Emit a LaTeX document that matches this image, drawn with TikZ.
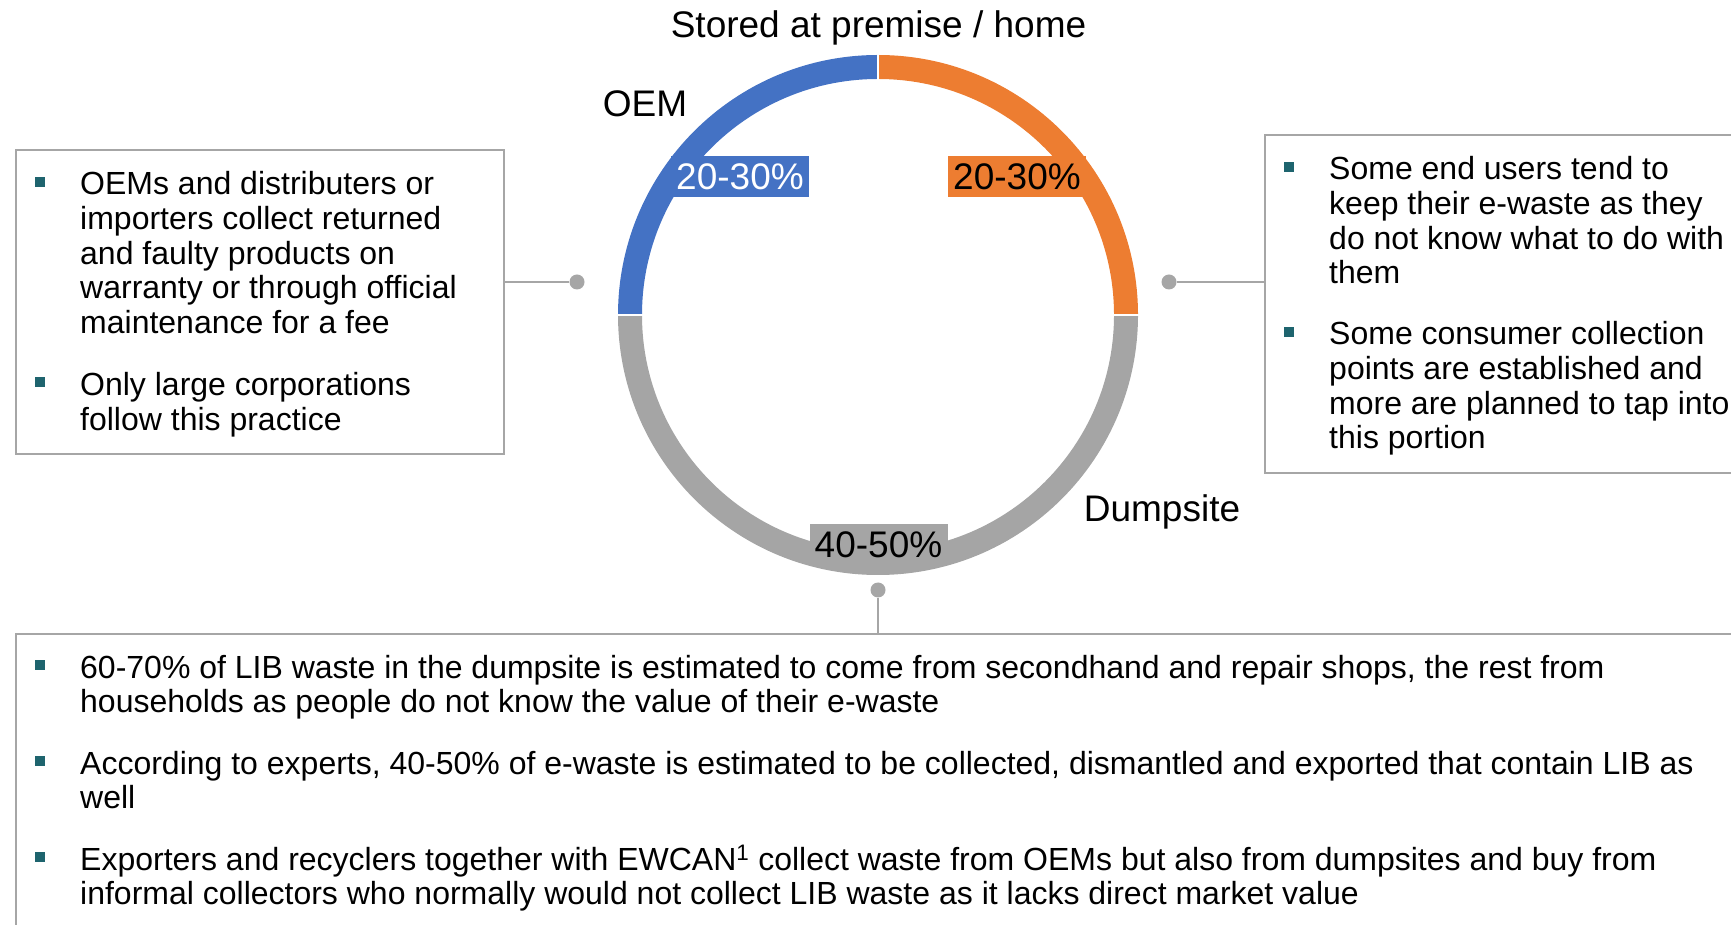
\documentclass[tikz,border=0pt]{standalone}
\usepackage{fontspec}
\setmainfont{Liberation Sans}
\definecolor{oem}{RGB}{68,114,196}
\definecolor{store}{RGB}{237,125,49}
\definecolor{dump}{RGB}{165,165,165}
\definecolor{frame}{RGB}{166,166,166}
\definecolor{bullet}{RGB}{30,100,110}
\usetikzlibrary{
	positioning,
	calc
}
\tikzset{
  % ring
	cstring/.style    ={line width=24pt},             % ring segment
	cstsep/.style     ={draw=white, line width=2pt},  % gap between segments
  % node
	cstpct/.style     ={inner sep=0pt, minimum width=138pt, minimum height=41pt, font=\fontsize{37}{40}\selectfont},
	cstname/.style    ={anchor=base, inner sep=0pt, font=\fontsize{37}{40}\selectfont},
	cstbox/.style     ={draw=frame, line width=2pt, anchor=north west, inner sep=0pt},
	cstitem/.style    ={anchor=base west, inner sep=0pt, align=left, font=\fontsize{32}{34.6}\selectfont}, % base = last line
	cstbullet/.style  ={fill=bullet, minimum size=10pt, inner sep=0pt},
  % connector
	cstline/.style    ={draw=frame, line width=2.5pt},
	cstdot/.style     ={circle, fill=frame, minimum size=15pt, inner sep=0pt}
}
\begin{document}
\begin{tikzpicture}[x=1pt,y=1pt]
			\useasboundingbox (0,0) rectangle (1731,924);
			% ring
			\coordinate (C) at (878,609);
			\draw[cstring,oem] ([shift={(180:248)}]C) arc[start angle=180, end angle=90, radius=248];
			\draw[cstring,store] ([shift={(90:248)}]C) arc[start angle=90, end angle=0, radius=248];
			\draw[cstring,dump] ([shift={(0:248)}]C) arc[start angle=0, end angle=-180, radius=248];
			\draw[cstsep] ([shift={(90:235)}]C) -- ([shift={(90:261)}]C);
			\draw[cstsep] ([shift={(0:235)}]C) -- ([shift={(0:261)}]C);
			\draw[cstsep] ([shift={(180:235)}]C) -- ([shift={(180:261)}]C);
			\node[cstpct,fill=oem,text=white] (oempct) at (740,747.5) {20-30\%};
			\node[cstpct,fill=store] (storepct) at (1017,747.5) {20-30\%};
			\node[cstpct,fill=dump] (dumppct) at (878.5,379) {40-50\%};
			\node[cstname] (storename) at (878.5,886) {Stored at premise / home};
			\node[cstname] (oemname) at (645,807) {OEM};
			\node[cstname] (dumpname) at (1162,402) {Dumpsite};
			% boxes
			\node[cstbox,minimum width=488pt,minimum height=304pt] (oembox) at (15,775) {};
			\node[cstbox,minimum width=481pt,minimum height=338pt] (storebox) at (1264,790) {};
			\node[cstbox,minimum width=1740pt,minimum height=310pt] (dumpbox) at (15,291) {};
			% connectors
			\node[cstdot] (oemdot) at (577,642) {};
			\node[cstdot] (storedot) at (1169,642) {};
			\node[cstdot] (dumpdot) at (878,334) {};
			\draw[cstline] (oemdot) -- (oembox.east |- oemdot);
			\draw[cstline] (storedot) -- (storebox.west |- storedot);
			\draw[cstline] (dumpdot) -- (dumpbox.north -| dumpdot);
			% left text
			\node[cstbullet] (oemb1) at (40,742) {};
			\node[cstitem] (oemt1) at (80,590.6) {OEMs and distributers or\\importers collect returned\\and faulty products on\\warranty or through official\\maintenance for a fee};
			\node[cstbullet] (oemb2) at (40,541.5) {};
			\node[cstitem] (oemt2) at (80,493.9) {Only large corporations\\follow this practice};
			% right text
			\node[cstbullet] (storeb1) at (1289,757) {};
			\node[cstitem] (storet1) at (1329,640.2) {Some end users tend to\\keep their e-waste as they\\do not know what to do with\\them};
			\node[cstbullet] (storeb2) at (1289,592) {};
			\node[cstitem] (storet2) at (1329,475.2) {Some consumer collection\\points are established and\\more are planned to tap into\\this portion};
			% bottom text
			\node[cstbullet] (dumpb1) at (40,259) {};
			\node[cstitem] (dumpt1) at (80,211.4) {60-70\% of LIB waste in the dumpsite is estimated to come from secondhand and repair shops, the rest from\\households as people do not know the value of their e-waste};
			\node[cstbullet] (dumpb2) at (40,163) {};
			\node[cstitem] (dumpt2) at (80,115.4) {According to experts, 40-50\% of e-waste is estimated to be collected, dismantled and exported that contain LIB as\\well};
			\node[cstbullet] (dumpb3) at (40,67) {};
			\node[cstitem] (dumpt3) at (80,19.4) {Exporters and recyclers together with EWCAN\textsuperscript{1} collect waste from OEMs but also from dumpsites and buy from\\informal collectors who normally would not collect LIB waste as it lacks direct market value};
		\end{tikzpicture}
\end{document}
